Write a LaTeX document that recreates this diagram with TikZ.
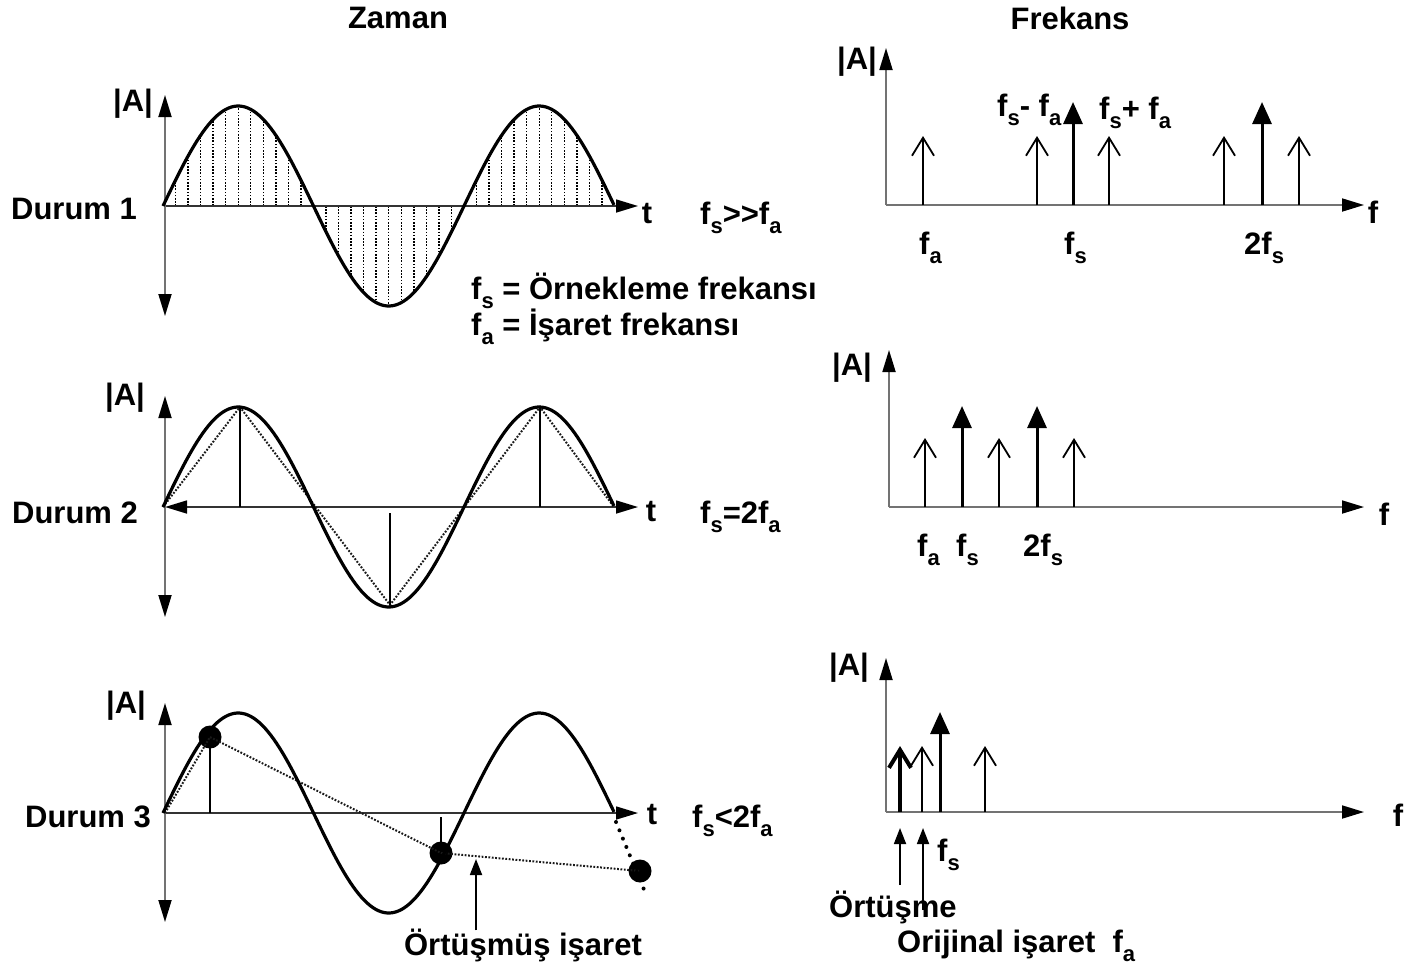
\documentclass[tikz,border=0pt]{standalone}
\usepackage{fontspec}
\setmainfont{Liberation Sans}
\usetikzlibrary{arrows.meta}
\newcommand\lsub[1]{\raisebox{-0.32em}{\fontsize{22}{22}\selectfont #1}}
\begin{document}
\begin{tikzpicture}[x=1pt,y=-1pt,
  lbl/.style={font=\fontsize{31}{33}\selectfont\bfseries, inner sep=0pt},
  wave/.style={line width=3.2pt, black},
  axisv/.style={draw=black!55, line width=1.8pt},
  axish/.style={draw=black!80, line width=1.6pt},
  axtip/.style={-{Triangle[length=22pt,width=13pt,color=black]}},
  axboth/.style={{Triangle[length=22pt,width=13pt,color=black]}-{Triangle[length=22pt,width=13pt,color=black]}},
  hatch/.style={black, line width=1.4pt, dash pattern=on 1.6pt off 1.6pt},
  samp/.style={black, line width=1.8pt},
  dotl/.style={black!90, line width=2pt, dash pattern=on 1.8pt off 1.6pt},
  thinarr/.style={line width=1.8pt, -{Straight Barb[length=18pt,width=22pt,line width=1.8pt]}},
  boldarr/.style={line width=4pt, -{Straight Barb[length=18pt,width=22pt,line width=4pt]}},
  fillarr/.style={line width=3pt, -{Triangle[length=22pt,width=19pt]}},
  ptr/.style={line width=1.8pt, -{Triangle[length=16pt,width=12pt]}},
  dotpt/.style={circle, fill=black, minimum size=23pt, inner sep=0pt}]
\useasboundingbox (0,0) rectangle (1404,967);

% ---------- titles
\node[lbl] (zaman) at (398,18) {Zaman};
\node[lbl] (frekans) at (1070,18) {Frekans};

% ================= TIME PANEL 1
\coordinate (o1) at (165,206);
\coordinate (v1t) at (165,95);
\coordinate (v1b) at (165,316);
\coordinate (h1e) at (638,206);
\foreach \k in {1,...,35}{
  \pgfmathsetmacro\xx{163+12.54*\k}
  \draw[hatch] (\xx,206) -- (\xx,{206-100*sin((\xx-163)*1.196013)});
}
\draw[axish, axtip] (o1) -- (h1e);
\draw[axisv, axboth] (v1b) -- (v1t);
\draw[wave] plot[domain=163:614,samples=160] (\x,{206-100*sin((\x-163)*1.196013)});
\node[lbl] (a1) at (133,104) {|A|};
\node[lbl] (d1) at (74,209) {Durum 1};
\node[lbl] (t1) at (647,214) {t};
\node[lbl, anchor=base west] (c1) at (700,224) {f\lsub{s}>\kern0pt>f\lsub{a}};
\node[lbl, anchor=base west] (def1) at (471,299) {f\lsub{s} = Örnekleme frekansı};
\node[lbl, anchor=base west] (def2) at (471,335) {f\lsub{a} = İşaret frekansı};

% ================= TIME PANEL 2
\coordinate (o2) at (165,507);
\coordinate (v2t) at (165,396);
\coordinate (v2b) at (165,617);
\coordinate (h2e) at (638,507);
\draw[axish, axboth] (o2) -- (h2e);
\draw[axisv, axboth] (v2b) -- (v2t);
\draw[dotl] (163,507) -- (240,407) -- (390,605) -- (540,407) -- (614,507);
\draw[samp] (240,507) -- (240,407);
\draw[samp] (390,513) -- (390,605);
\draw[samp] (540,507) -- (540,407);
\draw[wave] plot[domain=163:614,samples=160] (\x,{507-100*sin((\x-163)*1.196013)});
\node[lbl] (a2) at (125,398) {|A|};
\node[lbl] (d2) at (75,513) {Durum 2};
\node[lbl] (t2) at (651,512) {t};
\node[lbl, anchor=base west] (c2) at (700,523) {f\lsub{s}=2f\lsub{a}};

% ================= TIME PANEL 3
\coordinate (o3) at (165,813);
\coordinate (v3t) at (165,703);
\coordinate (v3b) at (165,922);
\coordinate (h3e) at (638,813);
\draw[axish, axtip] (o3) -- (h3e);
\draw[axisv, axboth] (v3b) -- (v3t);
\node[dotpt] (p1) at (210,737) {};
\node[dotpt] (p2) at (441,853) {};
\node[dotpt] (p3) at (640,871) {};
\draw[samp] (210,813) -- (p1.center);
\draw[samp] (441,817) -- (p2.center);
\draw[dotl] (o3) -- (p1.center) -- (p2.center) -- (p3.center);
\draw[wave] plot[domain=163:614,samples=160] (\x,{813-100*sin((\x-163)*1.196013)});
\draw[black, line width=4pt, line cap=round, dash pattern=on 0pt off 9pt] (616,822) -- (645,892);
\node[lbl] (a3) at (126,706) {|A|};
\node[lbl] (d3) at (88,817) {Durum 3};
\node[lbl] (t3) at (652,815) {t};
\node[lbl, anchor=base west] (c3) at (692,827) {f\lsub{s}<2f\lsub{a}};
\node[lbl] (ortmus) at (523,945) {Örtüşmüş işaret};
\coordinate (ortmusTip) at (476,859);
\draw[ptr] ([yshift=-2pt]ortmus.north -| ortmusTip) -- (ortmusTip);

% ================= FREQ PANEL 1
\coordinate (f1o) at (886,205);
\coordinate (f1t) at (886,48);
\coordinate (f1e) at (1364,205);
\draw[axisv, axtip] (f1o) -- (f1t);
\draw[axisv, axtip] (f1o) -- (f1e);
\foreach \xx in {923,1037,1109,1224,1299}{\draw[thinarr] (\xx,205) -- (\xx,136);}
\foreach \xx in {1073,1262}{\draw[fillarr] (\xx,205) -- (\xx,102);}
\node[lbl] (fa1) at (857,62) {|A|};
\node[lbl] (ff1) at (1373,212) {f};
\node[lbl, anchor=base west] (l1a) at (919,254) {f\lsub{a}};
\node[lbl, anchor=base west] (l1b) at (1064,254) {f\lsub{s}};
\node[lbl, anchor=base west] (l1c) at (1244,254) {2f\lsub{s}};
\node[lbl, anchor=base west] (l1d) at (997,116) {f\lsub{s}- f\lsub{a}};
\node[lbl, anchor=base west] (l1e) at (1099,119) {f\lsub{s}+ f\lsub{a}};

% ================= FREQ PANEL 2
\coordinate (f2o) at (889,507);
\coordinate (f2t) at (889,350);
\coordinate (f2e) at (1364,507);
\draw[axisv, axtip] (f2o) -- (f2t);
\draw[axisv, axtip] (f2o) -- (f2e);
\foreach \xx in {925,999,1074}{\draw[thinarr] (\xx,507) -- (\xx,438);}
\foreach \xx in {962,1037}{\draw[fillarr] (\xx,507) -- (\xx,406);}
\node[lbl] (fa2) at (852,368) {|A|};
\node[lbl] (ff2) at (1384,514) {f};
\node[lbl, anchor=base west] (l2a) at (917,556) {f\lsub{a}};
\node[lbl, anchor=base west] (l2b) at (956,556) {f\lsub{s}};
\node[lbl, anchor=base west] (l2c) at (1023,556) {2f\lsub{s}};

% ================= FREQ PANEL 3
\coordinate (f3o) at (886,812);
\coordinate (f3t) at (886,658);
\coordinate (f3e) at (1364,812);
\draw[axisv, axtip] (f3o) -- (f3t);
\draw[axisv, axtip] (f3o) -- (f3e);
\draw[boldarr] (900,812) -- (900,746);
\foreach \xx in {922,985}{\draw[thinarr] (\xx,812) -- (\xx,746);}
\draw[fillarr] (940,812) -- (940,712);
\node[lbl] (fa3) at (849,668) {|A|};
\node[lbl] (ff3) at (1398,815) {f};
\node[lbl, anchor=base west] (l3s) at (937,861) {f\lsub{s}};
\node[lbl, anchor=base west] (ortme) at (829,917) {Örtüşme};
\node[lbl, anchor=base west] (orij) at (897,952) {Orijinal işaret\ \ f\lsub{a}};
\coordinate (ptA) at (900,828);
\coordinate (ptB) at (923,828);
\draw[ptr] (900,885) -- (ptA);
\draw[ptr] (923,910) -- (ptB);
\end{tikzpicture}
\end{document}
